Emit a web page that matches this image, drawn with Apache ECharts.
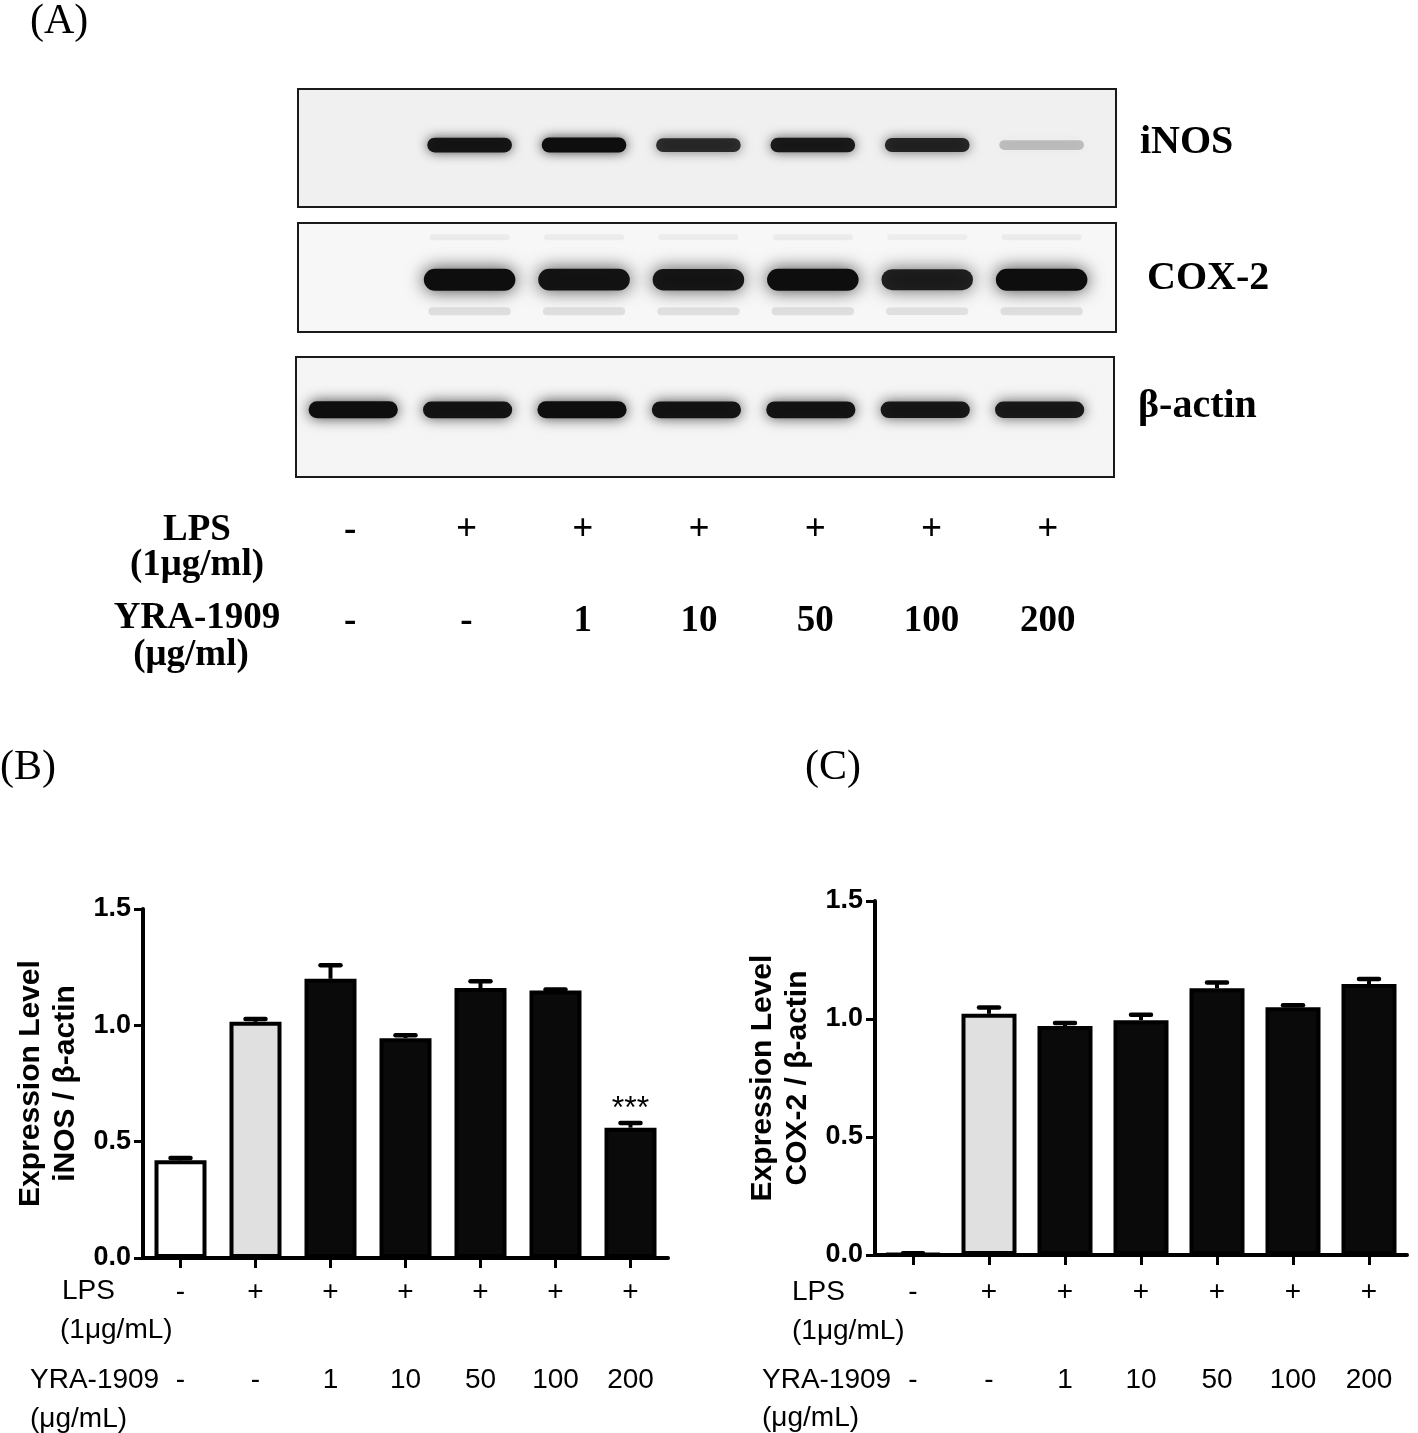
<!DOCTYPE html>
<html>
<head>
<meta charset="utf-8">
<script src="https://cdn.jsdelivr.net/npm/echarts@6/dist/echarts.min.js"></script>
<style>
html, body { margin: 0; padding: 0; background: #fff; }
#fig { width: 1418px; height: 1433px; }
</style>
</head>
<body>
<div id="fig"></div>
<script>
// treatment per lane
var lpsLabels = ['-', '+', '+', '+', '+', '+', '+'];
var yraLabels = ['-', '-', '1', '10', '50', '100', '200'];
var groups = lpsLabels.map(function (l, i) { return l + '/' + yraLabels[i]; });

// western blot band strength per lane (0 = no band)
var inosBand = [0, 0.95, 1.0, 0.82, 0.92, 0.86, 0.22];
var coxBand = [0, 1.0, 0.97, 0.95, 1.0, 0.9, 1.0];
var actinBand = [1.0, 0.96, 1.0, 0.97, 0.97, 0.94, 0.93];

// densitometry, mean and SEM
var inosMean = [0.42, 1.015, 1.20, 0.945, 1.16, 1.15, 0.56];
var inosErr = [0.01, 0.012, 0.058, 0.012, 0.03, 0.004, 0.02];
var inosSig = ['', '', '', '', '', '', '***'];
var coxMean = [0.005, 1.022, 0.97, 0.995, 1.13, 1.05, 1.148];
var coxErr = [0.002, 0.027, 0.013, 0.023, 0.025, 0.008, 0.022];
var coxSig = ['', '', '', '', '', '', ''];

var yTicks = [0, 0.5, 1.0, 1.5];

var barFill = ['#ffffff', '#e0e0e0', '#0a0a0a', '#0a0a0a', '#0a0a0a', '#0a0a0a', '#0a0a0a'];
var SANS = '"Liberation Sans", Arial, Helvetica, sans-serif';
var SERIF = '"Liberation Serif", "Times New Roman", Times, serif';

function laneData(arr) {
    return arr.map(function (v, i) { return [i + 1, v]; });
}

// one blurred band per lane
function bandRender(yPos, thick, span, alpha) {
    return function (params, api) {
        var s = api.value(1);
        var v = s * alpha;
        if (!v) return null;
        var c = api.coord([api.value(0), yPos]);
        var w = api.size([span, 0])[0];
        var h = thick * (0.55 + 0.45 * s);
        return {
            type: 'rect',
            shape: { x: c[0] - w / 2, y: c[1] - h / 2, width: w, height: h, r: h / 2 },
            style: {
                fill: 'rgba(14,14,14,' + v + ')',
                shadowBlur: thick * 0.8,
                shadowColor: 'rgba(0,0,0,' + (v * 0.75) + ')'
            }
        };
    };
}

// error bar (upper only) + significance mark
function errRender(sigs) {
    return function (params, api) {
        var m = api.value(1), e = api.value(2);
        var p0 = api.coord([api.value(0), m]);
        var p1 = api.coord([api.value(0), m + e]);
        var kids = [
            { type: 'line', shape: { x1: p0[0], y1: p0[1], x2: p1[0], y2: p1[1] }, style: { stroke: '#000', lineWidth: 4 } },
            { type: 'line', shape: { x1: p1[0] - 10, y1: p1[1], x2: p1[0] + 10, y2: p1[1] }, style: { stroke: '#000', lineWidth: 4.5, lineCap: 'round' } }
        ];
        var sig = sigs[params.dataIndex];
        if (sig) {
            kids.push({
                type: 'text', x: p1[0], y: p1[1] + 2,
                style: { text: sig, font: '32px ' + SANS, fill: '#000', align: 'center', verticalAlign: 'bottom', textAlign: 'center', textVerticalAlign: 'bottom' }
            });
        }
        return { type: 'group', children: kids };
    };
}

function blotGrid(left, top, h, bg) {
    return { left: left, top: top, width: 818, height: h, show: true, borderColor: '#1a1a1a', borderWidth: 2, backgroundColor: bg, outerBoundsMode: 'none' };
}

function hiddenLaneAxis(gi) {
    return { type: 'value', gridIndex: gi, min: 0.5, max: 7.65, show: false };
}
function hiddenUnitAxis(gi) {
    return { type: 'value', gridIndex: gi, min: 0, max: 1, show: false };
}

function groupAxis(gi, margin) {
    return {
        type: 'category', gridIndex: gi, data: groups, boundaryGap: true,
        axisLine: { show: true, lineStyle: { color: '#000', width: 4 } },
        axisTick: { show: true, alignWithLabel: true, length: 10, lineStyle: { color: '#000', width: 3 } },
        axisLabel: {
            interval: 0, margin: margin, color: '#000',
            formatter: function (v, i) { return '{a|' + lpsLabels[i] + '}\n{b|' + yraLabels[i] + '}'; },
            rich: {
                a: { fontFamily: SANS, fontSize: 28, lineHeight: 40, color: '#000' },
                b: { fontFamily: SANS, fontSize: 28, lineHeight: 136, color: '#000' }
            }
        },
        splitLine: { show: false }
    };
}

function levelAxis(gi, name) {
    return {
        type: 'value', gridIndex: gi,
        min: yTicks[0], max: yTicks[yTicks.length - 1], interval: yTicks[1] - yTicks[0],
        name: name, nameLocation: 'middle', nameGap: 60, nameRotate: 90,
        nameTextStyle: { fontFamily: SANS, fontWeight: 'bold', fontSize: 30, lineHeight: 35, color: '#000' },
        axisLine: { show: true, lineStyle: { color: '#000', width: 4 } },
        axisTick: { show: true, length: 9, lineStyle: { color: '#000', width: 3 } },
        axisLabel: { margin: 12, color: '#000', fontFamily: SANS, fontWeight: 'bold', fontSize: 27, formatter: function (v) { return v.toFixed(1); } },
        splitLine: { show: false }
    };
}

function txt(x, y, text, font, align) {
    return {
        type: 'text', x: x, y: y, silent: true,
        style: { text: text, font: font, fill: '#000', textAlign: align || 'left', align: align || 'left', textVerticalAlign: 'middle', verticalAlign: 'middle' }
    };
}

var tFont = 'bold 37px ' + SERIF;
var bFont = 'bold 40px ' + SERIF;
var sFont = '28px ' + SANS;
var pFont = '42px ' + SERIF;

var option = {
    animation: false,
    backgroundColor: '#fff',
    grid: [
        blotGrid(298, 89, 118, '#f0f0f0'),
        blotGrid(298, 223, 109, '#f7f7f7'),
        blotGrid(296, 357, 120, '#f5f5f5'),
        { left: 292, top: 497, width: 814, height: 10, outerBoundsMode: 'none' },
        { left: 143, top: 909, width: 525, height: 349, outerBoundsMode: 'none' },
        { left: 875, top: 901, width: 532, height: 354, outerBoundsMode: 'none' }
    ],
    xAxis: [
        hiddenLaneAxis(0), hiddenLaneAxis(1), hiddenLaneAxis(2),
        {
            type: 'category', gridIndex: 3, data: groups,
            axisLine: { show: false }, axisTick: { show: false }, splitLine: { show: false },
            axisLabel: {
                interval: 0, margin: 3, color: '#000',
                formatter: function (v, i) { return '{a|' + lpsLabels[i] + '}\n{b|' + yraLabels[i] + '}'; },
                rich: {
                    a: { fontFamily: SERIF, fontWeight: 'bold', fontSize: 37, lineHeight: 40, color: '#000' },
                    b: { fontFamily: SERIF, fontWeight: 'bold', fontSize: 37, lineHeight: 142, color: '#000' }
                }
            }
        },
        groupAxis(4, 14),
        groupAxis(5, 17)
    ],
    yAxis: [
        hiddenUnitAxis(0), hiddenUnitAxis(1), hiddenUnitAxis(2), hiddenUnitAxis(3),
        levelAxis(4, 'Expression Level\niNOS / β-actin'),
        levelAxis(5, 'Expression Level\nCOX-2 / β-actin')
    ],
    graphic: [
        txt(30, 22, '(A)', pFont),
        txt(0, 768, '(B)', pFont),
        txt(805, 768, '(C)', pFont),
        txt(1140, 143, 'iNOS', bFont),
        txt(1147, 279, 'COX-2', bFont),
        txt(1138, 407, 'β-actin', bFont),
        txt(197, 530, 'LPS', tFont, 'center'),
        txt(197, 565, '(1μg/ml)', tFont, 'center'),
        txt(197, 618, 'YRA-1909', tFont, 'center'),
        txt(191, 655, '(μg/ml)', tFont, 'center'),
        txt(62, 1291, 'LPS', sFont),
        txt(60, 1330, '(1μg/mL)', sFont),
        txt(30, 1380, 'YRA-1909', sFont),
        txt(30, 1419, '(μg/mL)', sFont),
        txt(792, 1292, 'LPS', sFont),
        txt(792, 1331, '(1μg/mL)', sFont),
        txt(762, 1380, 'YRA-1909', sFont),
        txt(762, 1418, '(μg/mL)', sFont)
    ],
    series: [
        { type: 'custom', xAxisIndex: 0, yAxisIndex: 0, silent: true, data: laneData(inosBand), renderItem: bandRender(0.525, 15, 0.74, 1) },
        { type: 'custom', xAxisIndex: 1, yAxisIndex: 1, silent: true, data: laneData(coxBand), renderItem: bandRender(0.48, 22, 0.8, 1) },
        { type: 'custom', xAxisIndex: 1, yAxisIndex: 1, silent: true, data: laneData(coxBand), renderItem: bandRender(0.19, 8, 0.72, 0.1) },
        { type: 'custom', xAxisIndex: 1, yAxisIndex: 1, silent: true, data: laneData(coxBand), renderItem: bandRender(0.87, 6, 0.7, 0.05) },
        { type: 'custom', xAxisIndex: 2, yAxisIndex: 2, silent: true, data: laneData(actinBand), renderItem: bandRender(0.56, 17, 0.78, 1) },
        {
            type: 'bar', xAxisIndex: 4, yAxisIndex: 4, barWidth: 52, silent: true,
            itemStyle: { borderColor: '#000', borderWidth: 4 },
            data: inosMean.map(function (v, i) { return { value: v, itemStyle: { color: barFill[i] } }; })
        },
        {
            type: 'custom', xAxisIndex: 4, yAxisIndex: 4, silent: true, z: 5,
            encode: { x: 0, y: 1 },
            data: inosMean.map(function (m, i) { return [i, m, inosErr[i]]; }),
            renderItem: errRender(inosSig)
        },
        {
            type: 'bar', xAxisIndex: 5, yAxisIndex: 5, barWidth: 55, silent: true,
            itemStyle: { borderColor: '#000', borderWidth: 4 },
            data: coxMean.map(function (v, i) { return { value: v, itemStyle: { color: barFill[i] } }; })
        },
        {
            type: 'custom', xAxisIndex: 5, yAxisIndex: 5, silent: true, z: 5,
            encode: { x: 0, y: 1 },
            data: coxMean.map(function (m, i) { return [i, m, coxErr[i]]; }),
            renderItem: errRender(coxSig)
        }
    ]
};

var chart = echarts.init(document.getElementById('fig'));
chart.setOption(option);
</script>
</body>
</html>
